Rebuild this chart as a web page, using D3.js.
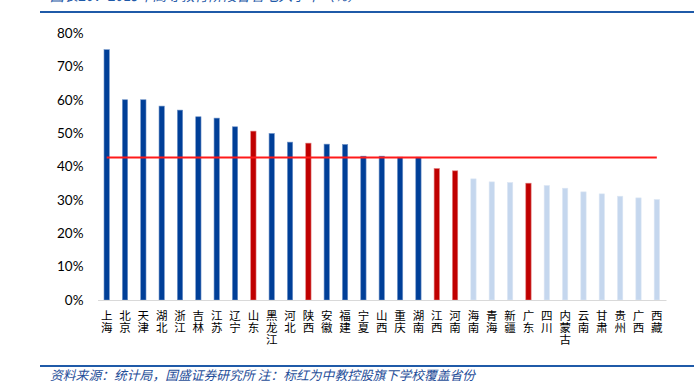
<!DOCTYPE html>
<html><head><meta charset="utf-8">
<script src="https://cdn.jsdelivr.net/npm/d3@7"></script>
<style>body{margin:0;background:#fff;}svg{display:block;}</style>
</head><body><svg id="c" width="694" height="386"></svg>
<script>
const categories = ["上海","北京","天津","湖北","浙江","吉林","江苏","辽宁","山东","黑龙江","河北","陕西","安徽","福建","宁夏","山西","重庆","湖南","江西","河南","海南","青海","新疆","广东","四川","内蒙古","云南","甘肃","贵州","广西","西藏"];
const values = [75.0,60.0,60.0,58.1,56.9,54.9,54.5,51.9,50.6,49.9,47.3,47.0,46.7,46.6,43.1,43.1,42.8,42.8,39.4,38.7,36.3,35.4,35.2,35.0,34.3,33.5,32.4,31.8,31.1,30.6,30.1];
const groups = ["d","d","d","d","d","d","d","d","r","d","d","r","d","d","d","d","d","d","r","r","l","l","l","r","l","l","l","l","l","l","l"];
const avgValue = 42.7;
const yTicks = [0,10,20,30,40,50,60,70,80];
const titleText = "图表20：2019年高等教育阶段各省毛入学率（%）";
const noteText = "资料来源：统计局，国盛证券研究所  注：标红为中教控股旗下学校覆盖省份";

(function(){
const svg = d3.select("#c");
const pLeft = 97.5, pRight = 666, pTop = 33, pBottom = 300;
const x = d3.scaleBand().domain(categories).range([pLeft, pRight]).paddingInner(0.71).paddingOuter(0.355);
const y = d3.scaleLinear().domain([0,80]).range([pBottom, pTop]);
const fill = {d:"#003f98", r:"#c00000", l:"#c5d7ee"};
const stroke = {d:"#6f93c8", r:"#e07b7b", l:"#dde7f4"};

svg.append("text").attr("x",50).attr("y",1).attr("font-family","'Noto Sans CJK SC'").attr("font-size",14)
  .attr("font-style","italic").attr("fill","#1f5aa8").text(titleText);
svg.append("line").attr("x1",40).attr("x2",694).attr("y1",12).attr("y2",12).attr("stroke","#1f5aa8").attr("stroke-width",2);
svg.append("line").attr("x1",40).attr("x2",694).attr("y1",366).attr("y2",366).attr("stroke","#1f5aa8").attr("stroke-width",2);
svg.append("text").attr("x",50).attr("y",380).attr("font-family","'Noto Sans CJK SC'").attr("font-size",12.8)
  .attr("font-style","italic").attr("fill","#1f4e99").text(noteText);

const yAxis = d3.axisLeft(y).tickValues(yTicks).tickFormat(d=>d+"%").tickSize(0).tickPadding(14);
const ya = svg.append("g").attr("transform",`translate(${pLeft},0)`).call(yAxis);
ya.select(".domain").remove();
ya.selectAll("text").attr("font-family","Lato, 'Noto Sans'").attr("font-size",13.5).attr("fill","#000");

svg.append("g").selectAll("rect").data(categories).join("rect")
  .attr("x",d=>x(d)).attr("width",x.bandwidth())
  .attr("y",(d,i)=>y(values[i])).attr("height",(d,i)=>y(0)-y(values[i]))
  .attr("fill",(d,i)=>fill[groups[i]]).attr("stroke",(d,i)=>stroke[groups[i]]).attr("stroke-width",0.6);

const xa = svg.append("g").attr("transform",`translate(0,${pBottom})`).call(d3.axisBottom(x).tickSize(0).tickFormat(""));
xa.select(".domain").attr("stroke","#d9d9d9").attr("stroke-width",1);
const chars = categories.flatMap(d => Array.from(d).map((ch,k)=>({cat:d, ch, k})));
svg.append("g").selectAll("text").data(chars).join("text")
  .attr("font-family","'Noto Sans CJK SC'").attr("font-size",11.5).attr("fill","#000").attr("text-anchor","middle")
  .attr("x",d=>x(d.cat)+x.bandwidth()/2).attr("y",d=>pBottom+20+d.k*12.2).text(d=>d.ch);

const line = d3.line().x(d=>x(d)+x.bandwidth()/2).y(()=>y(avgValue));
svg.append("path").datum(categories).attr("d",line).attr("fill","none").attr("stroke","#ff1a1a").attr("stroke-width",2);
})();
</script></body></html>
